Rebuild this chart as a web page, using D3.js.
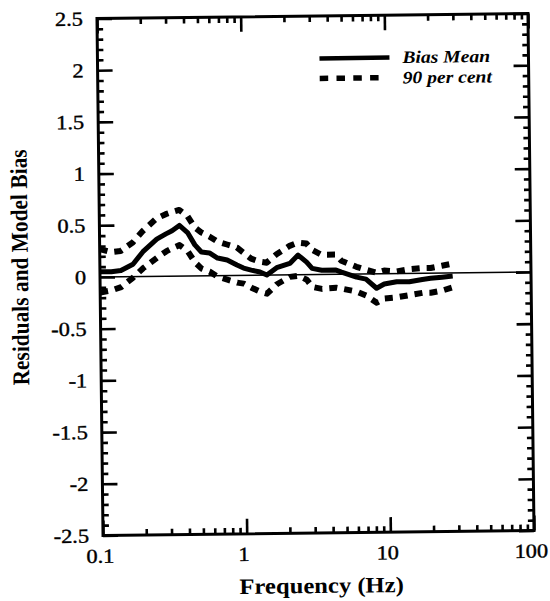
<!DOCTYPE html>
<html>
<head>
<meta charset="utf-8">
<script src="https://cdn.jsdelivr.net/npm/d3@7"></script>
<style>
  html, body { margin: 0; padding: 0; background: #fff; }
  svg { display: block; }
  svg text { font-family: "Liberation Serif", "Tinos", "Times New Roman", Times, "DejaVu Serif", serif !important; fill: #000; }
</style>
</head>
<body>
<svg id="chart" width="550" height="601"></svg>
<script>
// ---------------- data ----------------
const freq = [0.1, 0.12, 0.14, 0.17, 0.2, 0.25, 0.29, 0.32, 0.36, 0.41, 0.46, 0.51, 0.58, 0.66, 0.77, 0.9,
              1.0, 1.13, 1.3, 1.45, 1.7, 2.1, 2.4, 2.75, 3.0, 3.5, 4.4, 4.8, 6.1, 7.1, 8.4, 9.5,
              11.6, 14.2, 17.5, 20, 24, 28.5];
const biasMean = [0.05, 0.05, 0.06, 0.12, 0.24, 0.36, 0.41, 0.44, 0.49, 0.42, 0.30, 0.23, 0.22, 0.17, 0.15, 0.10,
                  0.07, 0.05, 0.03, 0.00, 0.07, 0.11, 0.19, 0.12, 0.06, 0.04, 0.04, 0.02, -0.03, -0.05, -0.14, -0.10,
                  -0.08, -0.08, -0.06, -0.05, -0.04, -0.03];
const upper90 = [0.27, 0.24, 0.25, 0.33, 0.44, 0.56, 0.60, 0.62, 0.64, 0.58, 0.47, 0.42, 0.38, 0.33, 0.30, 0.27,
                 0.22, 0.16, 0.13, 0.12, 0.20, 0.28, 0.31, 0.30, 0.24, 0.19, 0.19, 0.13, 0.07, 0.04, 0.01, 0.03,
                 0.02, 0.04, 0.05, 0.05, 0.07, 0.09];
const lower90 = [-0.15, -0.13, -0.10, -0.01, 0.08, 0.18, 0.24, 0.27, 0.30, 0.24, 0.13, 0.07, 0.04, -0.01, -0.04, -0.07,
                 -0.08, -0.12, -0.16, -0.18, -0.09, -0.02, -0.01, -0.05, -0.12, -0.14, -0.13, -0.14, -0.17, -0.21, -0.28, -0.24,
                 -0.23, -0.21, -0.19, -0.19, -0.17, -0.14];
const xTicks = [0.1, 1, 10, 100];
const xTickLabels = ["0.1", "1", "10", "100"];
const yTicks = [-2.5, -2, -1.5, -1, -0.5, 0, 0.5, 1, 1.5, 2, 2.5];
const yTickLabels = ["-2.5", "-2", "-1.5", "-1", "-0.5", "0", "0.5", "1", "1.5", "2", "2.5"];
const seriesNames = ["Bias Mean", "90 per cent"];
const xTitle = "Frequency (Hz)";
const yTitle = "Residuals and Model Bias";

// ---------------- layout ----------------
const L = 100, R = 531, T = 16, B = 533;
const SX = 1.12;   // the scanned original's lettering is slightly wide
const svg = d3.select("#chart");
// the scanned original is tilted slightly counter-clockwise
const g = svg.append("g").attr("transform", "rotate(-0.67, 315, 275)");

const x = d3.scaleLog().domain([0.1, 100]).range([L, R]);
const y = d3.scaleLinear().domain([-2.5, 2.5]).range([B, T]);

const majorLen = 15, minorLen = 6;
const xMinor = x.ticks().filter(v => !xTicks.some(t => Math.abs(t - v) < 1e-9));
const yMinor = d3.range(-25, 26).map(v => v / 10).filter(v => Math.abs(v * 2 - Math.round(v * 2)) > 1e-9);

function styleAxis(sel) {
  sel.attr("font-family", null);
  sel.select(".domain").remove();
  sel.selectAll(".tick line").attr("stroke", "#000").attr("stroke-width", 2.6);
}

// minor ticks
g.append("g").attr("transform", `translate(${L},0)`)
  .call(d3.axisLeft(y).tickValues(yMinor).tickSize(-minorLen).tickFormat(""))
  .call(styleAxis);
g.append("g").attr("transform", `translate(${R},0)`)
  .call(d3.axisRight(y).tickValues(yMinor).tickSize(-minorLen).tickFormat(""))
  .call(styleAxis);
g.append("g").attr("transform", `translate(0,${B})`)
  .call(d3.axisBottom(x).tickValues(xMinor).tickSize(-minorLen).tickFormat(""))
  .call(styleAxis);
g.append("g").attr("transform", `translate(0,${T})`)
  .call(d3.axisTop(x).tickValues(xMinor).tickSize(-minorLen).tickFormat(""))
  .call(styleAxis);

// major ticks + labels
const yAxisL = g.append("g").attr("transform", `translate(${L},0)`)
  .call(d3.axisLeft(y).tickValues(yTicks).tickSize(-majorLen).tickPadding(14 / SX)
        .tickFormat((d, i) => yTickLabels[i]))
  .call(styleAxis);
yAxisL.selectAll("text").attr("font-size", 20).attr("transform", `scale(${SX},1)`)
  .attr("stroke", "#000").attr("stroke-width", 0.4);
g.append("g").attr("transform", `translate(${R},0)`)
  .call(d3.axisRight(y).tickValues(yTicks).tickSize(-majorLen).tickFormat(""))
  .call(styleAxis);
const xAxisB = g.append("g").attr("transform", `translate(0,${B})`)
  .call(d3.axisBottom(x).tickValues(xTicks).tickSize(-majorLen).tickPadding(13)
        .tickFormat((d, i) => xTickLabels[i]))
  .call(styleAxis);
xAxisB.selectAll("text").attr("font-size", 20).attr("transform", `scale(${SX},1)`)
  .attr("stroke", "#000").attr("stroke-width", 0.4).attr("dx", -3);
g.append("g").attr("transform", `translate(0,${T})`)
  .call(d3.axisTop(x).tickValues(xTicks).tickSize(-majorLen).tickFormat(""))
  .call(styleAxis);

// frame
g.append("rect").attr("x", L).attr("y", T).attr("width", R - L).attr("height", B - T)
  .attr("fill", "none").attr("stroke", "#000").attr("stroke-width", 3);

// zero line
g.append("line").attr("x1", L).attr("x2", R).attr("y1", y(0)).attr("y2", y(0))
  .attr("stroke", "#000").attr("stroke-width", 1.5);

// curves
const line = d3.line().x(d => x(d[0])).y(d => y(d[1]));
const meanPts = freq.map((f, i) => [f, biasMean[i]]);
const upPts = freq.map((f, i) => [f, upper90[i]]);
const loPts = freq.map((f, i) => [f, lower90[i]]);

[upPts, loPts].forEach(pts => {
  g.append("path").attr("d", line(pts)).attr("fill", "none").attr("stroke", "#000")
    .attr("stroke-width", 6).attr("stroke-dasharray", "8,7").attr("stroke-linejoin", "round");
});
g.append("path").attr("d", line(meanPts)).attr("fill", "none").attr("stroke", "#000")
  .attr("stroke-width", 5).attr("stroke-linejoin", "round");

// legend
const lg = g.append("g");
lg.append("line").attr("x1", 322).attr("x2", 392).attr("y1", 58.5).attr("y2", 58.5)
  .attr("stroke", "#000").attr("stroke-width", 4.5);
lg.append("line").attr("x1", 322).attr("x2", 382).attr("y1", 78.5).attr("y2", 78.5)
  .attr("stroke", "#000").attr("stroke-width", 5.5).attr("stroke-dasharray", "8.5,8.3");
lg.selectAll("text.leg").data(seriesNames).join("text").attr("class", "leg")
  .attr("transform", (d, i) => `translate(405,${64 + i * 20.5}) scale(${SX},1)`)
  .attr("font-size", 17.5).attr("font-weight", "bold").attr("font-style", "italic")
  .text(d => d);

// axis titles
g.append("text").attr("transform", `translate(318,593) scale(${SX},1)`).attr("text-anchor", "middle")
  .attr("font-size", 22).attr("font-weight", "bold").text(xTitle);
g.append("text").attr("transform", `translate(28,264) scale(${SX},1) rotate(-90)`).attr("text-anchor", "middle")
  .attr("font-size", 21.4).attr("font-weight", "bold").text(yTitle);
</script>
</body>
</html>
